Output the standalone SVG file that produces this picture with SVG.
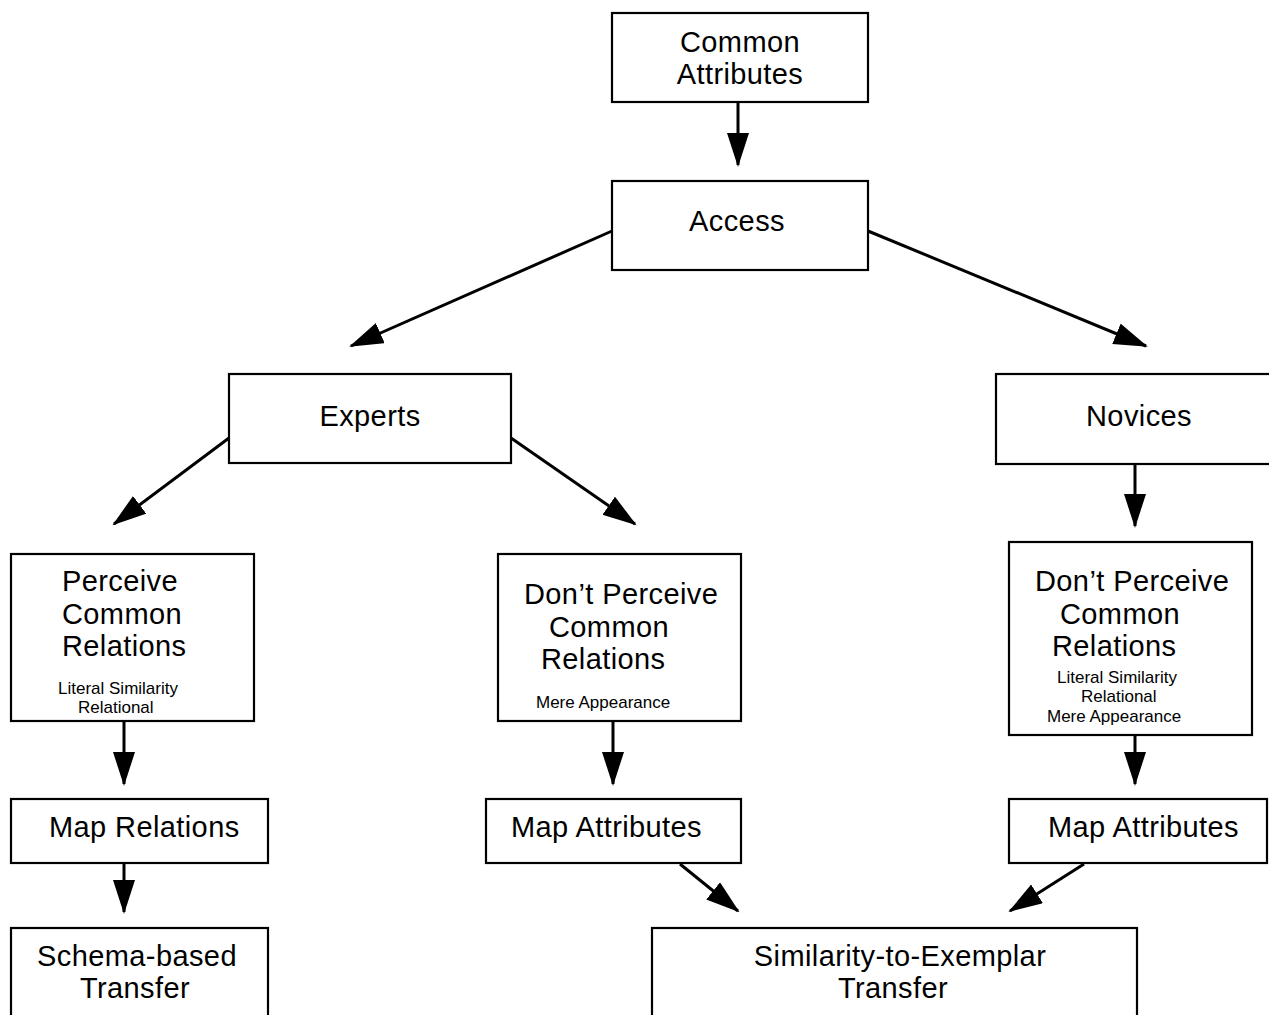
<svg xmlns="http://www.w3.org/2000/svg" width="1269" height="1015" viewBox="0 0 1269 1015">
<style>
.box{fill:#fff;stroke:#000;stroke-width:2.2}
.t{font-family:"Liberation Sans",Arial,Helvetica,sans-serif;font-size:29px;letter-spacing:0.4px;fill:#000}
.s{font-family:"Liberation Sans",Arial,Helvetica,sans-serif;font-size:17px;fill:#000}
.c{text-anchor:middle}
.edge{stroke:#000;stroke-width:3;fill:none;marker-end:url(#ah)}
</style>
<defs>
<marker id="ah" markerUnits="userSpaceOnUse" markerWidth="36" markerHeight="24" refX="32" refY="11" orient="auto">
<path d="M0,0 L34,11 L0,22 Z" fill="#000"/>
</marker>
</defs>
<rect width="1269" height="1015" fill="#fff"/>
<g id="connectors">
<line class="edge" x1="738" y1="103" x2="738" y2="165"/>
<line class="edge" x1="612" y1="231" x2="351" y2="346"/>
<line class="edge" x1="868" y1="231" x2="1146" y2="346"/>
<line class="edge" x1="229" y1="438" x2="114" y2="524"/>
<line class="edge" x1="511" y1="438" x2="635" y2="524"/>
<line class="edge" x1="1135" y1="464" x2="1135" y2="526"/>
<line class="edge" x1="124" y1="722" x2="124" y2="784"/>
<line class="edge" x1="613" y1="722" x2="613" y2="784"/>
<line class="edge" x1="1135" y1="736" x2="1135" y2="784"/>
<line class="edge" x1="124" y1="864" x2="124" y2="912"/>
<line class="edge" x1="680" y1="864" x2="738" y2="911"/>
<line class="edge" x1="1084" y1="864" x2="1010" y2="911"/>
</g>
<g id="common-attributes">
<rect class="box" x="612" y="13" width="256" height="89"/>
<text class="t c" x="740" y="52">Common</text>
<text class="t c" x="740" y="84">Attributes</text>
</g>
<g id="access">
<rect class="box" x="612" y="181" width="256" height="89"/>
<text class="t c" x="737" y="231">Access</text>
</g>
<g id="experts">
<rect class="box" x="229" y="374" width="282" height="89"/>
<text class="t c" x="370" y="426">Experts</text>
</g>
<g id="novices">
<rect class="box" x="996" y="374" width="290" height="90"/>
<text class="t c" x="1139" y="426">Novices</text>
</g>
<g id="perceive-common-relations">
<rect class="box" x="11" y="554" width="243" height="167"/>
<text class="t" x="62" y="591">Perceive</text>
<text class="t" x="62" y="624">Common</text>
<text class="t" x="62" y="656">Relations</text>
<text class="s" x="58" y="694">Literal Similarity</text>
<text class="s" x="78" y="713">Relational</text>
</g>
<g id="dont-perceive-experts">
<rect class="box" x="498" y="554" width="243" height="167"/>
<text class="t" x="524" y="604">Don’t Perceive</text>
<text class="t" x="549" y="637">Common</text>
<text class="t" x="541" y="669">Relations</text>
<text class="s" x="536" y="708">Mere Appearance</text>
</g>
<g id="dont-perceive-novices">
<rect class="box" x="1009" y="542" width="243" height="193"/>
<text class="t" x="1035" y="591">Don’t Perceive</text>
<text class="t" x="1060" y="624">Common</text>
<text class="t" x="1052" y="656">Relations</text>
<text class="s" x="1057" y="683">Literal Similarity</text>
<text class="s" x="1081" y="702">Relational</text>
<text class="s" x="1047" y="722">Mere Appearance</text>
</g>
<g id="map-relations">
<rect class="box" x="11" y="799" width="257" height="64"/>
<text class="t" x="49" y="837">Map Relations</text>
</g>
<g id="map-attributes-experts">
<rect class="box" x="486" y="799" width="255" height="64"/>
<text class="t" x="511" y="837">Map Attributes</text>
</g>
<g id="map-attributes-novices">
<rect class="box" x="1009" y="799" width="258" height="64"/>
<text class="t" x="1048" y="837">Map Attributes</text>
</g>
<g id="schema-based-transfer">
<rect class="box" x="11" y="928" width="257" height="100"/>
<text class="t c" x="137" y="966">Schema-based</text>
<text class="t c" x="135" y="998">Transfer</text>
</g>
<g id="similarity-to-exemplar-transfer">
<rect class="box" x="652" y="928" width="485" height="100"/>
<text class="t c" x="900" y="966">Similarity-to-Exemplar</text>
<text class="t c" x="893" y="998">Transfer</text>
</g>
</svg>
